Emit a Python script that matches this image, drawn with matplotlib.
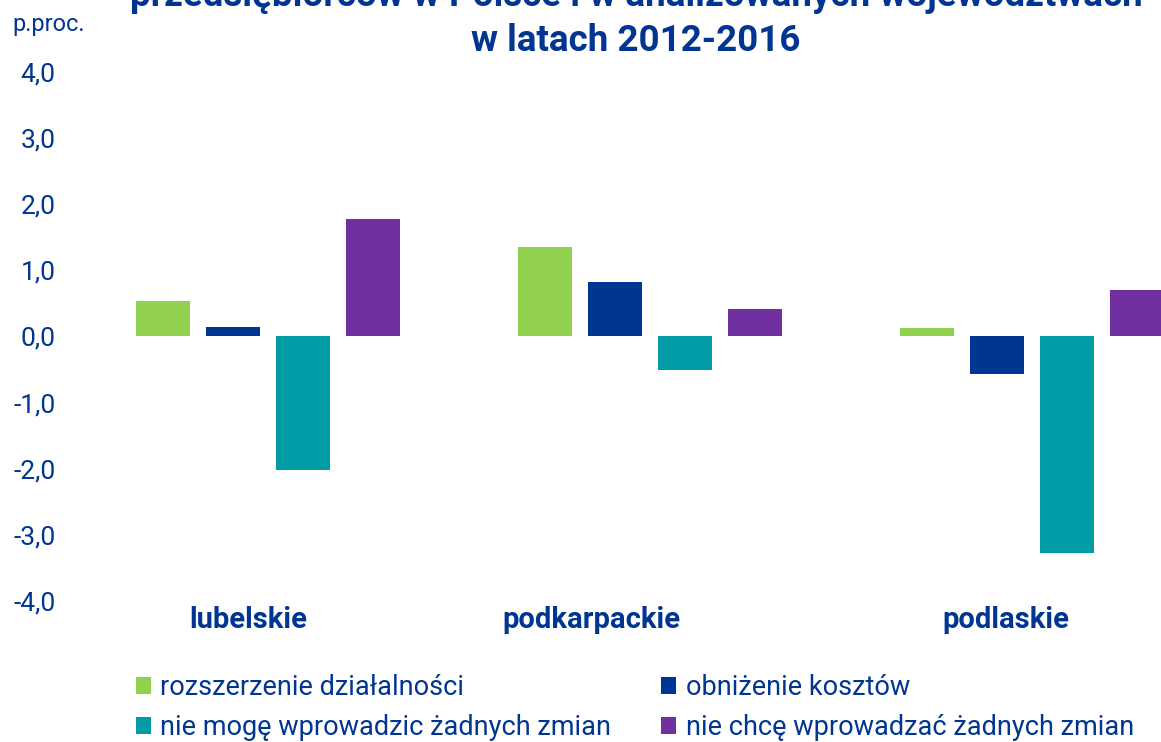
import matplotlib
matplotlib.use("Agg")
import matplotlib.pyplot as plt
import numpy as np

categories = ["lubelskie", "podkarpackie", "podlaskie"]
series_names = ["rozszerzenie działalności", "obniżenie kosztów",
                "nie mogę wprowadzic żadnych zmian", "nie chcę wprowadzać żadnych zmian"]
rozszerzenie = [0.53, 1.36, 0.13]
obnizenie = [0.15, 0.82, -0.56]
nie_moge = [-2.02, -0.50, -3.28]
nie_chce = [1.78, 0.42, 0.70]
ytick_values = [4.0, 3.0, 2.0, 1.0, 0.0, -1.0, -2.0, -3.0, -4.0]
ytick_labels = ["4,0", "3,0", "2,0", "1,0", "0,0", "-1,0", "-2,0", "-3,0", "-4,0"]
title_lines = ["przedsiębiorców w Polsce i w analizowanych województwach", "w latach 2012-2016"]

colors = ["#92D050", "#003591", "#009BA4", "#7030A0"]
navy = "#003591"
plt.rcParams['font.family'] = ['Roboto', 'DejaVu Sans']

W, H = 1161, 742
fig = plt.figure(figsize=(W/100, H/100), dpi=100)
ax = fig.add_axes([100/W, 141/H, (1161-100)/W, (601-72)/H])

x = np.arange(len(categories))
width = 54/382
step = 70/382
all_series = [rozszerzenie, obnizenie, nie_moge, nie_chce]
handles = []
for i, (vals, c, name) in enumerate(zip(all_series, colors, series_names)):
    b = ax.bar(x + (i - 1.5)*step, vals, width, color=c, label=name)
    handles.append(b)

ax.set_ylim(-4, 4)
ax.set_xlim((100-268)/382, (1161-268)/382)
ax.set_yticks(ytick_values)
ax.set_yticklabels(ytick_labels, fontsize=19, color=navy)
ax.tick_params(axis='y', length=0, pad=32)
ax.set_xticks([])
for s in ax.spines.values():
    s.set_visible(False)

label_offsets = [-20/382, -59/382, -26/382]
for xi, cat, off in zip(x, categories, label_offsets):
    ax.text(xi + off, -4.07, cat, ha='center', va='top', fontsize=21,
            fontweight='bold', color=navy, transform=ax.transData)

fig.text(636/W, 1 - (-4)/H, title_lines[0], ha='center', va='center',
         fontsize=26.5, fontweight='bold', color=navy)
fig.text(636/W, 1 - 41/H, title_lines[1], ha='center', va='center',
         fontsize=26.5, fontweight='bold', color=navy)
fig.text(12/W, 1 - 25/H, "p.proc.", ha='left', va='center', fontsize=17, color=navy)

# order so that legend rows read: green, navy / teal, purple
order = [0, 2, 1, 3]
leg = fig.legend(handles=[handles[i] for i in order],
                 labels=[series_names[i] for i in order], ncol=2,
                 loc='upper left', bbox_to_anchor=(136/W, 1 - 674/H),
                 frameon=False, fontsize=19.5, handlelength=0.55, handleheight=0.55,
                 handletextpad=0.35, columnspacing=1.85, labelspacing=0.48,
                 labelcolor=navy, borderpad=0, borderaxespad=0)

fig.savefig("out.png", dpi=100)
